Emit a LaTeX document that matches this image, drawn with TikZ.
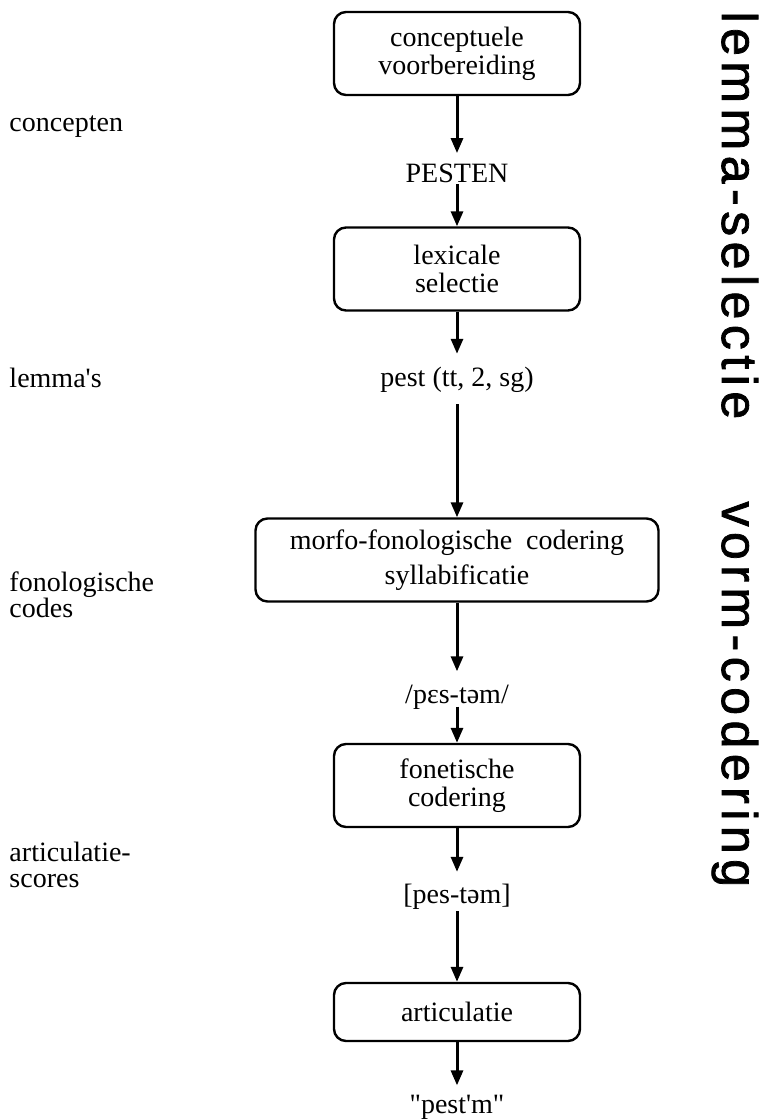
\documentclass[tikz,border=0pt]{standalone}
\usepackage{fontspec}
\setmainfont{Liberation Serif}
\newfontfamily\sidefont[LetterSpace=11,FakeBold=1.5]{Liberation Sans}
\newcommand\sq{\XeTeXglyph\XeTeXcharglyph"27\relax}
\newcommand\dq{\XeTeXglyph\XeTeXcharglyph"22\relax}
\usepackage{tikz}
\usetikzlibrary{arrows.meta,positioning}

\begin{document}
\begin{tikzpicture}[x=0.5pt,y=-0.5pt,->,>={Triangle[length=7.5pt,width=6pt]},
                    line width=1.5pt,node distance=50pt,
                    font=\fontsize{14}{14}\selectfont]
  \tikzstyle{stage}=[draw=black,line width=1.2pt,rounded corners=6pt,align=center,
                     minimum width=123pt,minimum height=41.5pt]
  \tikzstyle{word}=[inner sep=0pt]
  \tikzstyle{levelname}=[inner sep=0pt,anchor=west,align=left,
                         font=\fontsize{14}{13}\selectfont]
  \tikzstyle{phase}=[inner sep=0pt,anchor=base west,rotate=-90,
                     font=\sidefont\fontsize{25}{25}\selectfont]

  \useasboundingbox (0,0) rectangle (763,1120);

  \node[stage] (A) at (457,53.5) {conceptuele\\voorbereiding};
  \node[word]  (a) [below of=A,node distance=59.75pt] {PESTEN};
  \node[stage] (B) [below of=a,node distance=48pt] {lexicale\\selectie};
  \node[word]  (b) [below of=B,node distance=55.5pt] {pest (tt, 2, sg)};
  \node[stage,minimum width=201.5pt,font=\fontsize{14}{17.5}\selectfont]
               (C) [below of=b,node distance=90pt]
               {morfo-fonologische\ \ codering\\syllabificatie};
  \node[word]  (c) [below of=C,node distance=68.5pt] {/pɛs-təm/};
  \node[stage] (D) [below of=c,node distance=44.25pt] {fonetische\\codering};
  \node[word]  (d) [below of=D,node distance=55.75pt] {[pes-təm]};
  \node[stage,minimum height=29pt] (E) [below of=d,node distance=57.5pt] {articulatie};
  \node[word]  (e) [below of=E,node distance=47.5pt] {\dq pest\sq m\dq};

  % namen van de niveaus
  \node[levelname] (L1) at (8,127) {concepten};
  \node[levelname] (L2) at (8,378) {lemma\sq s};
  \node[levelname] (L3) at (8,595) {fonologische\\codes};
  \node[levelname] (L4) at (8,865) {articulatie-\\scores};

  % fasen
  \node[phase] (R1) at (722,10) {lemma-selectie};
  \node[phase] (R2) at (722,500) {vorm-codering};

  \path (A) edge[shorten >=4.5pt] (a)
        (a) edge (B)
        (B) edge[shorten >=6pt] (b)
        (b) edge[shorten <=5pt] (C)
        (C) edge[shorten >=6pt] (c)
        (c) edge[shorten <=-2pt] (D)
        (D) edge[shorten >=5.5pt] (d)
        (d) edge (E)
        (E) edge[shorten >=4pt] (e);
\end{tikzpicture}
\end{document}
